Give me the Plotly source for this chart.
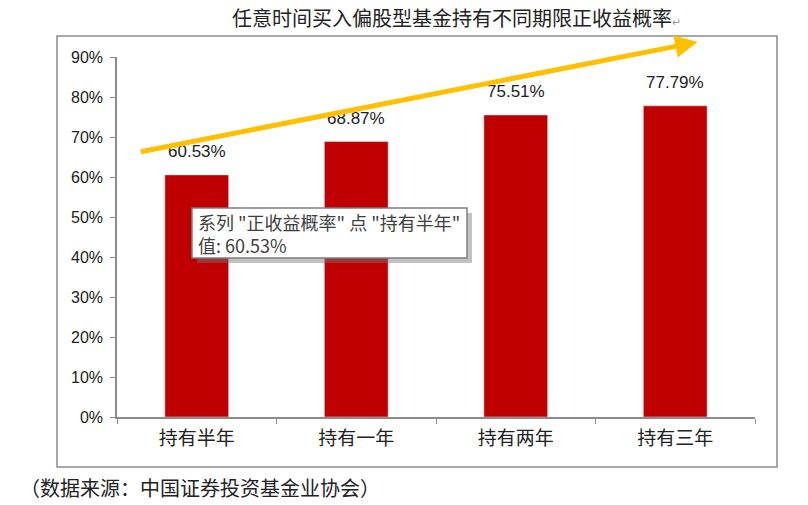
import plotly.graph_objects as go

categories = ["持有半年", "持有一年", "持有两年", "持有三年"]
values = [0.6053, 0.6887, 0.7551, 0.7779]
y_ticks = [0, 0.1, 0.2, 0.3, 0.4, 0.5, 0.6, 0.7, 0.8, 0.9]
y_tick_labels = ["0%", "10%", "20%", "30%", "40%", "50%", "60%", "70%", "80%", "90%"]
title_text = "任意时间买入偏股型基金持有不同期限正收益概率"
source_text = "（数据来源：中国证券投资基金业协会）"
tooltip_lines = ['系列 "正收益概率" 点 "持有半年"', "值: 60.53%"]

FONT = "Liberation Sans, Arial, Noto Sans CJK SC"
CJK = "Noto Sans CJK SC, Liberation Sans"

W, H = 808, 505
L, R, T, B = 117, 53, 57, 88
PW, PH = W - L - R, H - T - B

def px(x):
    return (x - L) / PW

def py(y):
    return (H - B - y) / PH

fig = go.Figure()
fig.add_trace(go.Bar(
    x=categories, y=values, marker_color="#C00000", width=0.4,
    hoverinfo="skip", showlegend=False,
))

annotations = []
for c, v in zip(categories, values):
    annotations.append(dict(
        x=c, y=v, xref="x", yref="y", text=f"{v*100:.2f}%", showarrow=False,
        yanchor="middle", yshift=23, font=dict(family=FONT, size=17, color="#222222"),
    ))

# trend arrow
annotations.append(dict(
    x=3.14, y=0.9375, xref="x", yref="y", ax=-0.36, ay=0.6625, axref="x", ayref="y",
    showarrow=True, arrowhead=2, arrowsize=0.9, arrowwidth=5, arrowcolor="#FFC000", text="",
))

# title
annotations.append(dict(
    x=px(456), y=py(18), xref="paper", yref="paper",
    text=title_text + "<span style='font-size:11px;color:#999'>↵</span>",
    showarrow=False, xanchor="center", yanchor="middle",
    font=dict(family=CJK, size=20, color="#222222"),
))
# source
annotations.append(dict(
    x=px(18), y=py(487), xref="paper", yref="paper", text=source_text,
    showarrow=False, xanchor="left", yanchor="middle",
    font=dict(family=CJK, size=20, color="#222222"),
))
# tooltip text
annotations.append(dict(
    x=px(196), y=py(233), xref="paper", yref="paper", text="<br>".join(tooltip_lines),
    showarrow=False, xanchor="left", yanchor="middle", align="left",
    font=dict(family=CJK, size=18, color="#404040"),
))

shapes = [
    # outer frame
    dict(type="rect", xref="paper", yref="paper", x0=px(57), x1=px(777), y0=py(467), y1=py(36),
         line=dict(color="#8C8C8C", width=1.5), layer="below"),
    # tooltip shadow
    dict(type="rect", xref="paper", yref="paper", x0=px(197), x1=px(472), y0=py(263), y1=py(213),
         line=dict(width=0), fillcolor="rgba(120,120,120,0.45)", layer="above"),
    # tooltip box
    dict(type="rect", xref="paper", yref="paper", x0=px(192), x1=px(467), y0=py(258), y1=py(208),
         line=dict(color="#7F7F7F", width=1.5), fillcolor="white", layer="above"),
]

fig.update_layout(
    width=W, height=H, margin=dict(l=L, r=R, t=T, b=B),
    paper_bgcolor="white", plot_bgcolor="white",
    annotations=annotations, shapes=shapes,
    bargap=0.6,
)
fig.update_xaxes(
    showgrid=False, showline=True, linecolor="#8C8C8C", linewidth=1.5,
    ticks="outside", tickson="boundaries", ticklen=5, tickcolor="#8C8C8C",
    tickfont=dict(family=CJK, size=19, color="#222222"), range=[-0.5, 3.5],
    ticklabelstandoff=3,
)
fig.update_yaxes(
    range=[0, 0.9], tickvals=y_ticks, ticktext=y_tick_labels, showgrid=False,
    showline=True, linecolor="#8C8C8C", linewidth=1.5, ticks="outside", ticklen=5,
    tickcolor="#8C8C8C", tickfont=dict(family=FONT, size=16, color="#222222"),
    zeroline=False, ticklabelstandoff=4,
)

fig.write_html("out.html")
